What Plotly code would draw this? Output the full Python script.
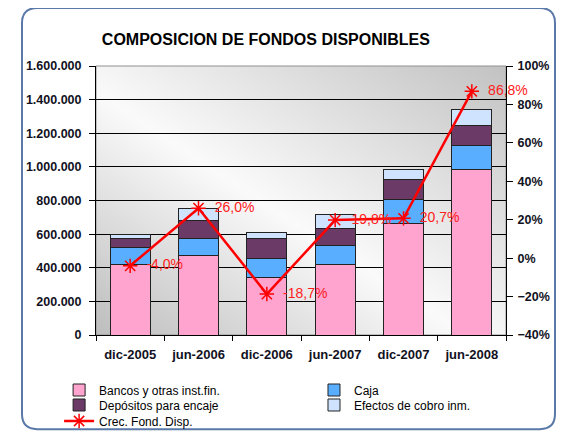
import base64
import plotly.graph_objects as go

# datos
periodos = ["dic-2005", "jun-2006", "dic-2006", "jun-2007", "dic-2007", "jun-2008"]
bancos = [416500, 474000, 341000, 416500, 664600, 981700]
caja = [103000, 101000, 113000, 113000, 138600, 142800]
depositos = [56000, 104600, 117200, 105200, 123200, 123200]
efectos = [19600, 73900, 39800, 83300, 55400, 95200]
crec = [-4.0, 26.0, -18.7, 19.8, 20.7, 86.8]
crec_txt = ["-4,0%", "26,0%", "-18,7%", "19,8%", "20,7%", "86,8%"]

fig = go.Figure()

series = [
    ("Bancos y otras inst.fin.", bancos, "#FFA3CF", "legend"),
    ("Caja", caja, "#5AAEFF", "legend2"),
    ("Depósitos para encaje", depositos, "#6B3A66", "legend3"),
    ("Efectos de cobro inm.", efectos, "#CFE3FF", "legend4"),
]
for nombre, vals, col, leg in series:
    fig.add_trace(go.Bar(x=periodos, y=vals, name=nombre, legend=leg, showlegend=True,
                         marker=dict(color=col, line=dict(color="#222222", width=1))))

fig.add_trace(go.Scatter(x=periodos, y=crec, name="Crec. Fond. Disp.", yaxis="y2",
                         legend="legend5", showlegend=True,
                         mode="lines+markers+text",
                         text=["\u00a0\u00a0" + t for t in crec_txt],
                         textposition="middle right", cliponaxis=False,
                         textfont=dict(color="#FF2020", size=14, family="Liberation Sans"),
                         line=dict(color="#FF0000", width=2.5),
                         marker=dict(symbol="asterisk-open", size=12,
                                     line=dict(color="#FF0000", width=1.5))))

# fondo degradado del area de trazado
svg = ("<svg xmlns='http://www.w3.org/2000/svg' width='100' height='100' preserveAspectRatio='none'>"
       "<defs><linearGradient id='g' x1='1' y1='0' x2='0' y2='1'>"
       "<stop offset='0' stop-color='#C2C2C2'/><stop offset='0.55' stop-color='#FAFAFA'/>"
       "<stop offset='1' stop-color='#BDBDBD'/></linearGradient></defs>"
       "<rect width='100' height='100' fill='url(#g)'/></svg>")
src = "data:image/svg+xml;base64," + base64.b64encode(svg.encode()).decode()

# marco redondeado exterior
x0, x1, y0, y1 = -0.1805, 1.1195, -0.35, 1.2156
rx, ry = 0.037, 0.056
marco = (f"M {x0+rx},{y1} L {x1-rx},{y1} Q {x1},{y1} {x1},{y1-ry} "
         f"L {x1},{y0+ry} Q {x1},{y0} {x1-rx},{y0} L {x0+rx},{y0} "
         f"Q {x0},{y0} {x0},{y0+ry} L {x0},{y1-ry} Q {x0},{y1} {x0+rx},{y1} Z")

tickfont = dict(family="Liberation Sans", size=12.5, color="#111122", weight="bold")


def item_leyenda(x, y):
    return dict(orientation="h", x=x, xanchor="left", y=y, yanchor="middle",
                traceorder="normal", itemwidth=30, font=dict(size=12, color="black"),
                bgcolor="rgba(0,0,0,0)")


# la pagina tiene 8px de margen en el body, por eso 560x425
fig.update_layout(
    width=560, height=425,
    margin=dict(l=88, r=62, t=58, b=98, autoexpand=False),
    paper_bgcolor="white",
    plot_bgcolor="rgba(0,0,0,0)",
    showlegend=True,
    separators=",.",
    barmode="stack",
    bargap=0.41,
    font=dict(family="Liberation Sans", color="black"),
    title=dict(text="<b>COMPOSICION DE FONDOS DISPONIBLES</b>", x=0.4605, xanchor="center",
               y=0.925, yanchor="middle", font=dict(size=16, color="black")),
    xaxis=dict(type="category", tickson="boundaries", ticks="outside", ticklen=5,
               tickcolor="black", showline=True, linecolor="black", linewidth=1,
               showgrid=False, ticklabelstandoff=7,
               tickfont=dict(family="Liberation Sans", size=13,
                             color="#111122", weight="bold")),
    yaxis=dict(range=[0, 1600000], dtick=200000, tickformat=",d", ticks="outside",
               ticklen=6, tickcolor="black", showline=True, linecolor="black",
               showgrid=True, gridcolor="black", gridwidth=1, zeroline=False,
               ticklabelstandoff=5, tickfont=tickfont),
    yaxis2=dict(overlaying="y", side="right", range=[-40, 100], dtick=20,
                ticksuffix="%", ticks="outside", ticklen=6, tickcolor="black",
                showline=True, linecolor="black", showgrid=False, zeroline=False,
                ticklabelstandoff=2, tickfont=tickfont),
    legend=item_leyenda(-0.09, -0.2045),
    legend2=item_leyenda(0.5317, -0.2045),
    legend3=item_leyenda(-0.09, -0.2602),
    legend4=item_leyenda(0.5317, -0.2602),
    legend5=item_leyenda(-0.09, -0.3197),
    images=[dict(source=src, xref="paper", yref="paper", x=0, y=1, sizex=1, sizey=1,
                 sizing="stretch", layer="below")],
    shapes=[
        dict(type="rect", xref="paper", yref="paper", x0=0, x1=1, y0=0, y1=1,
             line=dict(color="#909090", width=1), layer="below"),
        dict(type="path", xref="paper", yref="paper", path=marco,
             line=dict(color="#5A78A8", width=2)),
    ],
)

fig.write_html("out.html")
